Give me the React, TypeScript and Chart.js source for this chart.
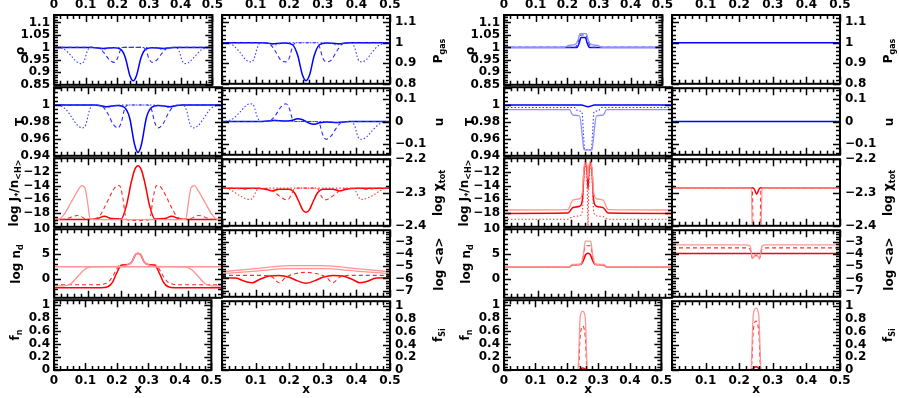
import React, { useEffect, useRef } from 'react';
import { Chart, registerables } from 'chart.js';
Chart.register(...registerables);

// ---------------- tick labels ----------------
const xLabelsFull = [0, 0.1, 0.2, 0.3, 0.4, 0.5];
const xLabelsRight = [0.1, 0.2, 0.3, 0.4, 0.5];

// ---------------- left group: x grids ----------------
const xC = [0, 0.12, 0.155, 0.19, 0.21, 0.225, 0.24, 0.25, 0.26, 0.275, 0.29, 0.31, 0.345, 0.38, 0.5];
const xM = [0, 0.13, 0.145, 0.16, 0.175, 0.19, 0.2, 0.21, 0.22, 0.25, 0.28, 0.29, 0.3, 0.31, 0.325, 0.34, 0.355, 0.37, 0.5];
const xO = [0, 0.015, 0.035, 0.055, 0.07, 0.085, 0.095, 0.105, 0.115, 0.14, 0.16, 0.18, 0.25, 0.32, 0.34, 0.36, 0.385, 0.395, 0.405, 0.415, 0.43, 0.445, 0.465, 0.485, 0.5];

// rho
const rhoC = [1, 1, 0.996, 0.999, 0.993, 0.96, 0.885, 0.866, 0.885, 0.96, 0.993, 0.999, 0.996, 1, 1];
const rhoM = [1, 1, 0.995, 0.975, 0.95, 0.94, 0.955, 0.99, 1, 1, 1, 0.99, 0.955, 0.94, 0.95, 0.975, 0.995, 1, 1];
const rhoO = [1, 0.999, 0.99, 0.965, 0.944, 0.935, 0.945, 0.985, 1, 0.998, 0.993, 0.999, 1, 0.999, 0.993, 0.998, 1, 0.985, 0.945, 0.935, 0.944, 0.965, 0.99, 0.999, 1];
// T
const TC = [1, 1, 0.998, 0.9995, 0.997, 0.985, 0.953, 0.944, 0.953, 0.985, 0.997, 0.9995, 0.998, 1, 1];
const TM = [1, 1, 0.998, 0.99, 0.978, 0.973, 0.979, 0.995, 1, 1, 1, 0.995, 0.979, 0.973, 0.978, 0.99, 0.998, 1, 1];
const TO = [1, 0.9995, 0.995, 0.984, 0.976, 0.973, 0.977, 0.993, 1, 0.999, 0.997, 0.9995, 1, 0.9995, 0.997, 0.999, 1, 0.993, 0.977, 0.973, 0.976, 0.984, 0.995, 0.9995, 1];
// P_gas
const PC = [1, 1, 0.995, 0.999, 0.99, 0.94, 0.84, 0.815, 0.84, 0.94, 0.99, 0.999, 0.995, 1, 1];
const PM = [1, 1, 0.99, 0.955, 0.915, 0.907, 0.925, 0.98, 1, 1, 1, 0.98, 0.925, 0.907, 0.915, 0.955, 0.99, 1, 1];
const PO = [1, 0.998, 0.985, 0.95, 0.918, 0.907, 0.92, 0.975, 1, 0.997, 0.99, 0.999, 1, 0.999, 0.99, 0.997, 1, 0.975, 0.92, 0.907, 0.918, 0.95, 0.985, 0.998, 1];
// u
const uC = [0, 0, 0.004, 0.002, 0.006, 0.012, 0.008, 0, -0.008, -0.012, -0.006, -0.002, -0.004, 0, 0];
const uM = [0, 0, 0.005, 0.03, 0.065, 0.08, 0.06, 0.01, 0, 0, 0, -0.01, -0.06, -0.08, -0.065, -0.03, -0.005, 0, 0];
const uO = [0, 0.002, 0.015, 0.045, 0.07, 0.08, 0.07, 0.02, 0, 0.002, 0.006, 0.001, 0, -0.001, -0.006, -0.002, 0, -0.02, -0.07, -0.08, -0.07, -0.045, -0.015, -0.002, 0];

// J*/n<H>
const xJC = [0, 0.1, 0.13, 0.15, 0.17, 0.2, 0.215, 0.23, 0.24, 0.25, 0.26, 0.27, 0.285, 0.3, 0.33, 0.35, 0.37, 0.4, 0.5];
const JC = [-18.95, -18.95, -18.8, -18.45, -18.8, -18.85, -17, -13.5, -11.7, -11.1, -11.7, -13.5, -17, -18.85, -18.8, -18.45, -18.8, -18.95, -18.95];
const xJM = [0, 0.03, 0.07, 0.1, 0.13, 0.15, 0.17, 0.185, 0.195, 0.205, 0.215, 0.23, 0.25, 0.27, 0.285, 0.295, 0.305, 0.315, 0.33, 0.35, 0.37, 0.4, 0.43, 0.47, 0.5];
const JM = [-18.95, -18.9, -18.35, -18.9, -18.7, -17.2, -15.2, -14.1, -14.0, -15.8, -18.9, -19.05, -19.1, -19.05, -18.9, -15.8, -14.0, -14.1, -15.2, -17.2, -18.7, -18.9, -18.35, -18.9, -18.95];
const xJO = [0, 0.015, 0.03, 0.05, 0.07, 0.082, 0.092, 0.1, 0.108, 0.13, 0.25, 0.37, 0.392, 0.4, 0.408, 0.418, 0.43, 0.45, 0.47, 0.485, 0.5];
const JO = [-18.95, -18.9, -18.2, -16.5, -14.8, -14.0, -14.3, -16.5, -18.9, -18.95, -18.95, -18.95, -18.9, -16.5, -14.3, -14.0, -14.8, -16.5, -18.2, -18.9, -18.95];

// chi_tot
const chiC = [-2.287, -2.287, -2.29, -2.295, -2.29, -2.29, -2.3, -2.33, -2.352, -2.359, -2.352, -2.33, -2.3, -2.29, -2.29, -2.295, -2.29, -2.287, -2.287];
const chiM = [-2.287, -2.287, -2.29, -2.287, -2.288, -2.295, -2.31, -2.32, -2.322, -2.31, -2.289, -2.287, -2.287, -2.287, -2.289, -2.31, -2.322, -2.32, -2.31, -2.295, -2.288, -2.287, -2.29, -2.287, -2.287];
const chiO = [-2.287, -2.288, -2.295, -2.308, -2.318, -2.321, -2.316, -2.3, -2.288, -2.287, -2.287, -2.287, -2.288, -2.3, -2.316, -2.321, -2.318, -2.308, -2.295, -2.288, -2.287];

// n_d
const xND0 = [0, 0.5];
const ND0 = [2.5, 2.5];
const xNDC = [0, 0.14, 0.16, 0.175, 0.185, 0.2, 0.22, 0.232, 0.242, 0.25, 0.258, 0.268, 0.28, 0.3, 0.315, 0.325, 0.34, 0.36, 0.5];
const NDC = [-1.7, -1.7, -1.5, -0.5, 1.0, 2.8, 2.95, 3.5, 4.9, 5.2, 4.9, 3.5, 2.95, 2.8, 1.0, -0.5, -1.5, -1.7, -1.7];
const xNDM = [0, 0.12, 0.145, 0.165, 0.18, 0.195, 0.22, 0.232, 0.242, 0.25, 0.258, 0.268, 0.28, 0.305, 0.32, 0.335, 0.355, 0.38, 0.5];
const NDM = [-1.1, -1.1, -1.0, -0.3, 1.2, 2.8, 2.95, 3.5, 4.8, 5.1, 4.8, 3.5, 2.95, 2.8, 1.2, -0.3, -1.0, -1.1, -1.1];
const xNDO = [0, 0.03, 0.05, 0.07, 0.09, 0.11, 0.2, 0.22, 0.232, 0.242, 0.25, 0.258, 0.268, 0.28, 0.3, 0.39, 0.41, 0.43, 0.45, 0.47, 0.5];
const NDO = [-1.3, -1.3, -0.9, 0.5, 1.9, 2.5, 2.55, 2.95, 3.5, 4.9, 5.2, 4.9, 3.5, 2.95, 2.55, 2.5, 1.9, 0.5, -0.9, -1.3, -1.3];

// <a>
const xA6 = [0, 0.1, 0.2, 0.3, 0.4, 0.5];
const aTop = [-5.45, -5.2, -4.95, -4.95, -5.2, -5.45];
const aTop2 = [-5.6, -5.4, -5.2, -5.2, -5.4, -5.6];
const xAM = [0, 0.12, 0.15, 0.17, 0.19, 0.22, 0.25, 0.28, 0.31, 0.33, 0.35, 0.38, 0.5];
const aM = [-5.75, -5.75, -5.9, -6.35, -5.9, -5.6, -5.5, -5.6, -5.9, -6.35, -5.9, -5.75, -5.75];
const xAC = [0, 0.04, 0.07, 0.09, 0.11, 0.14, 0.17, 0.2, 0.225, 0.25, 0.275, 0.3, 0.33, 0.36, 0.39, 0.41, 0.43, 0.46, 0.5];
const aC = [-5.95, -5.97, -6.25, -6.35, -6.1, -5.8, -5.75, -5.9, -6.2, -6.4, -6.2, -5.9, -5.75, -5.8, -6.1, -6.35, -6.25, -5.97, -5.95];

// f (left group: zero)
const xFlat = [0, 0.5];
const fZero = [0, 0];

// ---------------- right group ----------------
const xRhoRa = [0, 0.19, 0.205, 0.225, 0.234, 0.24, 0.26, 0.266, 0.275, 0.295, 0.31, 0.5];
const rhoRa = [1, 1, 1.008, 1.012, 1.03, 1.055, 1.055, 1.03, 1.012, 1.008, 1, 1];
const xRhoRb = [0, 0.225, 0.236, 0.242, 0.258, 0.264, 0.275, 0.5];
const rhoRb = [1, 1, 1.03, 1.05, 1.05, 1.03, 1, 1];
const xRhoRc = [0, 0.23, 0.238, 0.243, 0.257, 0.262, 0.27, 0.5];
const rhoRc = [1, 1, 1.02, 1.04, 1.04, 1.02, 1, 1];

const xTRa = [0, 0.23, 0.25, 0.27, 0.5];
const TRa = [1, 1, 0.998, 1, 1];
const xTRb = [0, 0.21, 0.22, 0.232, 0.236, 0.24, 0.26, 0.264, 0.268, 0.28, 0.29, 0.5];
const TRb = [0.997, 0.997, 0.993, 0.992, 0.97, 0.947, 0.947, 0.97, 0.992, 0.993, 0.997, 0.997];
const xTRc = [0, 0.195, 0.205, 0.225, 0.234, 0.238, 0.262, 0.266, 0.275, 0.295, 0.305, 0.5];
const TRc = [0.9945, 0.9945, 0.988, 0.987, 0.96, 0.947, 0.947, 0.96, 0.987, 0.988, 0.9945, 0.9945];

const PgasR = [1, 1];
const uR = [0, 0];

const xJR = [0, 0.19, 0.205, 0.225, 0.233, 0.238, 0.243, 0.248, 0.25, 0.252, 0.257, 0.262, 0.267, 0.275, 0.295, 0.31, 0.5];
const JRa = [-17.55, -17.5, -16.1, -15.9, -15, -11.5, -10.4, -11.5, -13, -11.5, -10.4, -11.5, -15, -15.9, -16.1, -17.5, -17.55];
const JRb = [-18.05, -18.0, -17.2, -17.0, -16.2, -12, -10.6, -12.5, -14.5, -12.5, -10.6, -12, -16.2, -17.0, -17.2, -18.0, -18.05];
const JRc = [-18.9, -18.9, -18.5, -18.4, -17.8, -13, -11, -15, -19.8, -15, -11, -13, -17.8, -18.4, -18.5, -18.9, -18.9];

const xChiRa = [0, 0.236, 0.24, 0.264, 0.268, 0.5];
const chiRa = [-2.286, -2.286, -2.45, -2.45, -2.286, -2.286];
const xChiRb = [0, 0.24, 0.245, 0.252, 0.259, 0.264, 0.5];
const chiRb = [-2.286, -2.286, -2.29, -2.305, -2.29, -2.286, -2.286];
const xChiRc = [0, 0.239, 0.242, 0.261, 0.265, 0.5];
const chiRc = [-2.286, -2.286, -2.45, -2.45, -2.286, -2.286];

const xNdR = [0, 0.195, 0.205, 0.228, 0.236, 0.242, 0.258, 0.264, 0.272, 0.295, 0.305, 0.5];
const ndRa = [2.5, 2.5, 2.95, 3.0, 4.8, 7.6, 7.6, 4.8, 3.0, 2.95, 2.5, 2.5];
const ndRb = [2.5, 2.5, 2.9, 2.95, 4.3, 6.7, 6.7, 4.3, 2.95, 2.9, 2.5, 2.5];
const xNdRc = [0, 0.195, 0.205, 0.228, 0.236, 0.243, 0.25, 0.257, 0.264, 0.272, 0.295, 0.305, 0.5];
const ndRc = [2.5, 2.5, 2.9, 2.95, 3.7, 4.9, 5.2, 4.9, 3.7, 2.95, 2.9, 2.5, 2.5];

const xAR = [0, 0.22, 0.232, 0.24, 0.25, 0.26, 0.268, 0.28, 0.5];
const aRa = [-3.25, -3.25, -3.35, -4.35, -4.0, -4.35, -3.35, -3.25, -3.25];
const aRb = [-3.5, -3.5, -3.6, -4.4, -4.1, -4.4, -3.6, -3.5, -3.5];
const aRc = [-3.95, -3.95];

const xFR = [0, 0.235, 0.238, 0.241, 0.245, 0.25, 0.255, 0.259, 0.262, 0.265, 0.5];
const fnA = [0, 0, 0.3, 0.75, 0.88, 0.91, 0.88, 0.75, 0.3, 0, 0];
const fnB = [0, 0, 0.1, 0.45, 0.63, 0.68, 0.63, 0.45, 0.1, 0, 0];
const fnC = [0, 0, 0, 0.01, 0.025, 0.03, 0.025, 0.01, 0, 0, 0];
const fsiA = [0, 0, 0.35, 0.8, 0.94, 0.97, 0.94, 0.8, 0.35, 0, 0];
const fsiB = [0, 0, 0.15, 0.55, 0.72, 0.77, 0.72, 0.55, 0.15, 0, 0];
const fsiC = [0, 0, 0, 0.015, 0.04, 0.05, 0.04, 0.015, 0, 0, 0];

// ---------------- axis setup per row ----------------
const leftRows = [
  { min: 0.85, max: 1.13, labels: [0.85, 0.9, 0.95, 1, 1.05, 1.1], major: 0.05, minor: 0.01, hue: 'b' },
  { min: 0.94, max: 1.021, labels: [0.94, 0.96, 0.98, 1], major: 0.02, minor: 0.005, hue: 'b' },
  { min: -20, max: -10, labels: [-18, -16, -14, -12], major: 2, minor: 0.5, hue: 'r' },
  { min: -3.7, max: 10, labels: [0, 5, 10], major: 5, minor: 1, hue: 'r' },
  { min: 0, max: 1.08, labels: [0, 0.2, 0.4, 0.6, 0.8, 1], major: 0.2, minor: 0.05, hue: 'r' },
];
const rightRows = [
  { min: 0.8, max: 1.135, labels: [0.8, 0.9, 1, 1.1], major: 0.1, minor: 0.02, hue: 'b' },
  { min: -0.15, max: 0.15, labels: [-0.1, 0, 0.1], major: 0.1, minor: 0.02, hue: 'b' },
  { min: -2.4, max: -2.2, labels: [-2.4, -2.3, -2.2], major: 0.1, minor: 0.02, hue: 'r' },
  { min: -7.5, max: -2.05, labels: [-7, -6, -5, -4, -3], major: 1, minor: 0.2, hue: 'r' },
  { min: 0, max: 1.08, labels: [0, 0.2, 0.4, 0.6, 0.8, 1], major: 0.2, minor: 0.05, hue: 'r' },
];

type St = 'solid' | 'dash' | 'dot' | 'light';
type Ser = { xs: number[]; ys: number[]; st: St };
const s = (xs: number[], ys: number[], st: St): Ser => ({ xs, ys, st });

// series[group][col][row]
const SERIES: Ser[][][][] = [
  [
    [
      [s(xO, rhoO, 'dot'), s(xM, rhoM, 'dash'), s(xC, rhoC, 'solid')],
      [s(xO, TO, 'dot'), s(xM, TM, 'dash'), s(xC, TC, 'solid')],
      [s(xJO, JO, 'light'), s(xJM, JM, 'dash'), s(xJC, JC, 'solid')],
      [s(xND0, ND0, 'light'), s(xNDO, NDO, 'light'), s(xNDM, NDM, 'dash'), s(xNDC, NDC, 'solid')],
      [s(xFlat, fZero, 'solid')],
    ],
    [
      [s(xO, PO, 'dot'), s(xM, PM, 'dash'), s(xC, PC, 'solid')],
      [s(xO, uO, 'dot'), s(xM, uM, 'dash'), s(xC, uC, 'solid')],
      [s(xJO, chiO, 'dot'), s(xJM, chiM, 'dash'), s(xJC, chiC, 'solid')],
      [s(xA6, aTop, 'light'), s(xA6, aTop2, 'light'), s(xAM, aM, 'dash'), s(xAC, aC, 'solid')],
      [s(xFlat, fZero, 'solid')],
    ],
  ],
  [
    [
      [s(xRhoRa, rhoRa, 'light'), s(xRhoRb, rhoRb, 'dash'), s(xRhoRc, rhoRc, 'solid')],
      [s(xTRc, TRc, 'light'), s(xTRb, TRb, 'dot'), s(xTRa, TRa, 'solid')],
      [s(xJR, JRa, 'light'), s(xJR, JRc, 'dot'), s(xJR, JRb, 'solid')],
      [s(xNdR, ndRa, 'light'), s(xNdR, ndRb, 'dash'), s(xNdRc, ndRc, 'solid')],
      [s(xFR, fnA, 'light'), s(xFR, fnB, 'dash'), s(xFR, fnC, 'solid')],
    ],
    [
      [s(xFlat, PgasR, 'solid')],
      [s(xFlat, uR, 'solid')],
      [s(xChiRa, chiRa, 'light'), s(xChiRc, chiRc, 'dash'), s(xChiRb, chiRb, 'solid')],
      [s(xAR, aRa, 'light'), s(xAR, aRb, 'dash'), s(xFlat, aRc, 'solid')],
      [s(xFR, fsiA, 'light'), s(xFR, fsiB, 'dash'), s(xFR, fsiC, 'solid')],
    ],
  ],
];

// ---------------- layout ----------------
const GROUP_X = [54, 504];
const COL_W = 168;
const ROW_Y0 = 15;
const ROW_H = 71;
const AX_W = 50;
const PAD_H = 4;
const PAD_V = 10;
const TOP_H = 16;
const BOT_H = 18;
const FONT = '"DejaVu Sans", "Liberation Sans", sans-serif';

const COLORS: Record<string, Record<St, string>> = {
  b: { solid: '#0000ff', dash: '#2a2aff', dot: '#3b3bff', light: '#8f8fff' },
  r: { solid: '#ff0000', dash: '#ff2a2a', dot: '#ff3b3b', light: '#ff9494' },
};

const fmt = (v: number) => String(+v.toFixed(3)).replace('-', '\u2212');

function tickValues(min: number, max: number, minor: number, major: number) {
  const out: { v: number; maj: boolean }[] = [];
  const k0 = Math.ceil(min / minor - 1e-6);
  const k1 = Math.floor(max / minor + 1e-6);
  for (let k = k0; k <= k1; k++) {
    const v = k * minor;
    const r = v / major;
    out.push({ v, maj: Math.abs(r - Math.round(r)) < 1e-6 });
  }
  return out;
}

// PGPLOT-style box: inward major/minor ticks on all four sides, placed through the chart's scales
function drawFrame(chart: any, rs: any) {
  const ctx: CanvasRenderingContext2D = chart.ctx;
  const a = chart.chartArea;
  const xs = chart.scales.x;
  const ys = chart.scales.y;
  const xPix = (v: number) => xs.getPixelForDecimal((v - xs.min) / (xs.max - xs.min));
  const yPix = (v: number) => ys.getPixelForDecimal((v - ys.min) / (ys.max - ys.min));
  ctx.save();
  ctx.setLineDash([]);
  ctx.globalAlpha = 1;
  ctx.strokeStyle = '#000';
  ctx.lineWidth = 1.5;
  ctx.lineCap = 'butt';
  ctx.beginPath();
  for (const t of tickValues(0, 0.5, 0.02, 0.1)) {
    const p = Math.round(xPix(t.v)) + 0.5;
    const len = t.maj ? 7 : 4;
    ctx.moveTo(p, a.bottom);
    ctx.lineTo(p, a.bottom - len);
    ctx.moveTo(p, a.top);
    ctx.lineTo(p, a.top + len);
  }
  for (const t of tickValues(rs.min, rs.max, rs.minor, rs.major)) {
    const p = Math.round(yPix(t.v)) + 0.5;
    const len = t.maj ? 7 : 4;
    ctx.moveTo(a.left, p);
    ctx.lineTo(a.left + len, p);
    ctx.moveTo(a.right, p);
    ctx.lineTo(a.right - len, p);
  }
  ctx.stroke();
  ctx.lineWidth = 2;
  ctx.strokeRect(a.left, a.top, a.right - a.left, a.bottom - a.top);
  ctx.restore();
}

function Panel({ g, col, row }: { g: number; col: number; row: number }) {
  const ref = useRef<HTMLCanvasElement>(null);
  const rs = (col === 0 ? leftRows : rightRows)[row];
  const L = GROUP_X[g] + col * COL_W;
  const T = ROW_Y0 + row * ROW_H;
  const padL = PAD_H + (col === 0 ? AX_W : 0);
  const padR = PAD_H + (col === 1 ? AX_W : 0);
  const padT = PAD_V + (row === 0 ? TOP_H : 0);
  const padB = PAD_V + (row === 4 ? BOT_H : 0);
  const cw = COL_W + padL + padR;
  const ch = ROW_H + padT + padB;

  useEffect(() => {
    const series = SERIES[g][col][row];
    const pal = COLORS[rs.hue];
    const xShown = row === 0 || row === 4;
    const xLabels = col === 0 ? xLabelsFull : xLabelsRight;
    const tickFont = { family: FONT, size: 12, weight: 'bold' as const };
    const framePlugin = {
      id: 'pgbox',
      afterDatasetsDraw(chart: any) { drawFrame(chart, rs); },
    };
    const chart = new Chart(ref.current!, {
      type: 'line',
      data: {
        datasets: series.map((sr) => ({
          data: sr.xs.map((x, i) => ({ x, y: sr.ys[i] })),
          borderColor: pal[sr.st],
          borderWidth: sr.st === 'solid' ? 1.5 : sr.st === 'light' ? 1.3 : 1.1,
          borderDash: sr.st === 'dash' ? [4, 3] : sr.st === 'dot' ? [1.5, 2] : [],
          pointRadius: 0,
          fill: false,
          cubicInterpolationMode: 'monotone' as const,
        })),
      },
      options: {
        animation: false,
        responsive: false,
        devicePixelRatio: 1,
        events: [],
        layout: { padding: { left: PAD_H, right: PAD_H, top: PAD_V, bottom: PAD_V }, autoPadding: false },
        plugins: { legend: { display: false }, tooltip: { enabled: false } },
        scales: {
          x: {
            type: 'linear',
            min: 0,
            max: 0.5,
            position: row === 0 ? 'top' : 'bottom',
            display: xShown,
            grid: { display: false, drawTicks: false },
            border: { display: false },
            ticks: { color: '#000', font: tickFont, padding: row === 0 ? 3 : 4, autoSkip: false, maxRotation: 0, callback: (v: any) => fmt(Number(v)) },
            afterBuildTicks: (ax: any) => { ax.ticks = xLabels.map((v) => ({ value: v })); },
            ...(xShown ? { afterFit: (ax: any) => { ax.height = row === 0 ? TOP_H : BOT_H; } } : {}),
          },
          y: {
            type: 'linear',
            min: rs.min,
            max: rs.max,
            position: col === 0 ? 'left' : 'right',
            grid: { display: false, drawTicks: false },
            border: { display: false },
            ticks: { color: '#000', font: tickFont, padding: col === 0 ? 4 : 5, autoSkip: false, callback: (v: any) => fmt(Number(v)) },
            afterBuildTicks: (ax: any) => { ax.ticks = rs.labels.map((v) => ({ value: v })); },
            afterFit: (ax: any) => { ax.width = AX_W; },
          },
        },
      } as any,
      plugins: [framePlugin],
    });
    return () => chart.destroy();
  }, []);

  return (
    <canvas
      ref={ref}
      width={cw}
      height={ch}
      style={{ position: 'absolute', left: L - padL, top: T - padT, width: cw, height: ch }}
    />
  );
}

const sub = (t: string) => <span style={{ fontSize: '8px', position: 'relative', top: '3px' }}>{t}</span>;

const leftTitles = [
  <>ρ</>,
  <>T</>,
  <>log J{sub('*')}/n{sub('<H>')}</>,
  <>log n{sub('d')}</>,
  <>f{sub('n')}</>,
];
const leftTitleX = [20, 20, 15, 17, 16];
const rightTitles = [
  <>P{sub('gas')}</>,
  <>u</>,
  <>log χ{sub('tot')}</>,
  <>log &lt;a&gt;</>,
  <>f{sub('Si')}</>,
];
const rightTitleX = [439, 439, 439, 439, 439];

function Label({ x, y, rot, children }: { x: number; y: number; rot: boolean; children: any }) {
  return (
    <div
      style={{
        position: 'absolute',
        left: x,
        top: y,
        transform: `translate(-50%, -50%)${rot ? ' rotate(-90deg)' : ''}`,
        whiteSpace: 'nowrap',
        font: `bold 12px ${FONT}`,
        lineHeight: '14px',
        color: '#000',
      }}
    >
      {children}
    </div>
  );
}

export default function App() {
  const panels: any[] = [];
  for (let g = 0; g < 2; g++)
    for (let c = 0; c < 2; c++)
      for (let r = 0; r < 5; r++) panels.push(<Panel key={`${g}-${c}-${r}`} g={g} col={c} row={r} />);
  const labels: any[] = [];
  for (let g = 0; g < 2; g++) {
    for (let r = 0; r < 5; r++) {
      const cy = ROW_Y0 + r * ROW_H + ROW_H / 2;
      labels.push(<Label key={`l${g}${r}`} x={leftTitleX[r] + g * 450} y={cy} rot>{leftTitles[r]}</Label>);
      labels.push(<Label key={`r${g}${r}`} x={rightTitleX[r] + g * 450} y={cy} rot>{rightTitles[r]}</Label>);
    }
    for (let c = 0; c < 2; c++) {
      labels.push(<Label key={`x${g}${c}`} x={GROUP_X[g] + c * COL_W + COL_W / 2} y={389} rot={false}>x</Label>);
    }
  }
  return (
    <div style={{ position: 'fixed', left: 0, top: 0, width: 899, height: 398, background: '#fff', overflow: 'hidden' }}>
      {panels}
      {labels}
    </div>
  );
}
